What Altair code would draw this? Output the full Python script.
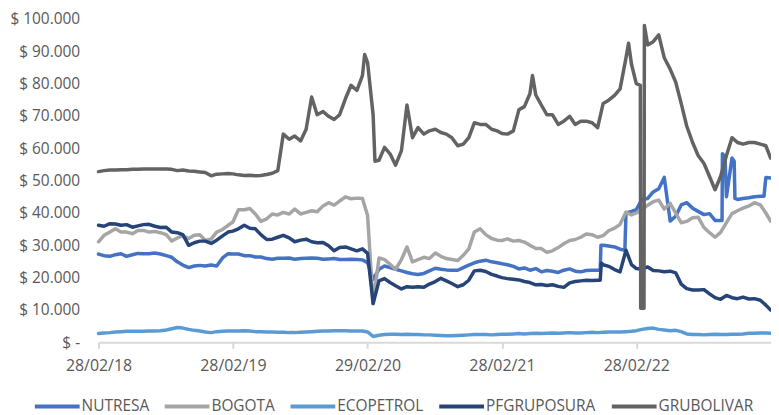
import altair as alt
import pandas as pd

# ---------------- data (values in thousands of pesos) ----------------
names = ["NUTRESA", "BOGOTA", "ECOPETROL", "PFGRUPOSURA", "GRUBOLIVAR"]
colors = ["#4472C4", "#A5A5A5", "#5B9BD5", "#264478", "#636363"]

# semi-monthly observation dates: 28/02/18, then the 15th and last day of each month to 28/02/23
grid_dates = [pd.Timestamp("2018-02-28")]
for ms in pd.date_range("2018-03-01", "2023-02-01", freq="MS"):
    grid_dates.append(ms + pd.Timedelta(days=14))
    grid_dates.append(ms + pd.offsets.MonthEnd(0))

nutresa = [
    27.3, 26.8, 26.6, 27.1, 27.4, 26.6, 27.1, 27.5, 27.4, 27.4, 27.6, 27.3, 26.8, 26.3, 24.9, 23.9, 23.1, 23.6, 23.8, 23.6, 23.9, 23.6, 26.1, 27.4, 27.3,
    27.3, 26.8, 26.8, 26.4, 26.4, 25.9, 25.7, 26.0, 26.0, 26.1, 25.7, 25.9, 26.0, 26.1, 26.0, 25.7, 25.8, 25.9, 25.6, 25.6, 25.7, 25.6, 25.5, 24.6,
    19.5, 22.6, 23.6, 23.1, 22.6, 22.1, 21.6, 21.2, 21.0, 21.3, 22.1, 22.9, 22.6, 22.4, 22.3, 22.3, 23.1, 23.9, 24.6, 25.1, 25.4, 24.9, 24.6, 24.3,
    24.0, 23.5, 22.7, 23.0, 22.3, 22.8, 21.8, 22.2, 22.0, 21.6, 22.3, 22.7, 22.0, 21.8, 22.2, 22.3, 22.3, 30.0, 29.8, 29.5, 28.8, 40.0, 40.5, 41.0,
    44.2, 44.5, 46.5, 47.5, 51.0, 37.5, 39.0, 42.5, 43.2, 41.5, 40.5, 39.5, 39.8, 37.7, 37.7, 45.0, 57.0, 44.2, 44.5, 44.7, 45.0, 45.2, 51.0, 50.8,
]
bogota = [
    31.1, 33.1, 34.1, 35.1, 34.1, 34.1, 33.6, 34.6, 34.6, 34.1, 34.3, 33.9, 33.3, 31.3, 32.3, 32.9, 32.1, 33.1, 33.3, 31.6, 31.9, 34.1, 34.9, 36.2, 37.2,
    41.0, 41.0, 41.4, 39.7, 37.4, 38.2, 39.7, 39.4, 40.2, 39.7, 41.2, 39.7, 40.2, 40.7, 40.4, 42.2, 43.2, 42.4, 43.7, 45.0, 44.4, 44.6, 44.5, 39.2,
    12.0, 26.1, 25.6, 24.1, 22.6, 25.6, 29.5, 24.9, 25.6, 26.3, 25.9, 27.6, 26.6, 25.9, 25.6, 25.3, 26.9, 28.9, 34.1, 35.1, 33.3, 32.1, 31.6, 31.5,
    32.0, 31.3, 31.5, 31.0, 30.0, 29.0, 29.0, 27.8, 28.3, 29.3, 30.5, 31.5, 31.8, 32.5, 33.5, 33.3, 32.5, 33.0, 34.5, 35.3, 36.5, 40.3, 39.4, 40.0,
    41.0, 42.4, 43.5, 44.0, 41.2, 43.0, 40.0, 37.0, 37.4, 38.5, 38.7, 35.5, 33.9, 32.5, 34.0, 37.0, 39.8, 40.7, 41.5, 42.2, 43.2, 42.5, 40.0, 37.5,
]
ecopetrol = [
    2.7, 2.9, 3.0, 3.2, 3.3, 3.4, 3.4, 3.4, 3.4, 3.5, 3.5, 3.6, 3.8, 4.2, 4.6, 4.4, 4.0, 3.7, 3.5, 3.2, 3.0, 3.3, 3.4, 3.5, 3.5,
    3.5, 3.6, 3.5, 3.3, 3.3, 3.2, 3.2, 3.1, 3.1, 3.0, 3.0, 3.1, 3.2, 3.3, 3.4, 3.5, 3.5, 3.6, 3.6, 3.6, 3.5, 3.5, 3.5, 3.2,
    1.8, 2.2, 2.4, 2.5, 2.5, 2.4, 2.5, 2.4, 2.4, 2.3, 2.3, 2.2, 2.1, 2.0, 2.0, 2.1, 2.2, 2.3, 2.4, 2.4, 2.4, 2.3, 2.4, 2.5,
    2.5, 2.6, 2.7, 2.6, 2.7, 2.8, 2.7, 2.8, 2.9, 2.8, 2.9, 3.0, 2.9, 2.9, 3.0, 3.1, 3.0, 3.1, 3.2, 3.2, 3.2, 3.3, 3.4, 3.6,
    4.0, 4.3, 4.4, 4.0, 3.8, 3.6, 3.7, 3.3, 2.6, 2.4, 2.4, 2.3, 2.4, 2.5, 2.4, 2.4, 2.5, 2.5, 2.6, 2.8, 2.8, 2.9, 2.9, 2.8,
]
pfgruposura = [
    36.2, 35.9, 36.7, 36.6, 36.2, 36.4, 35.6, 36.0, 36.4, 36.5, 35.9, 35.5, 35.6, 34.1, 33.9, 33.3, 30.0, 30.8, 31.3, 31.3, 30.6, 31.6, 32.9, 34.1, 34.4,
    35.1, 36.2, 35.3, 35.1, 33.3, 31.8, 31.9, 32.5, 33.1, 32.3, 31.1, 31.6, 31.9, 31.1, 30.8, 30.9, 29.9, 28.3, 29.3, 29.5, 28.9, 28.3, 28.9, 27.5,
    12.0, 19.0, 19.7, 18.5, 17.5, 16.5, 17.2, 17.0, 17.2, 17.0, 18.0, 18.8, 19.8, 19.0, 18.2, 17.2, 17.8, 19.2, 22.1, 22.3, 21.9, 21.0, 20.5, 20.0,
    19.7, 19.5, 19.3, 18.8, 18.5, 17.8, 17.9, 17.6, 17.8, 17.3, 17.0, 18.4, 18.8, 19.0, 19.2, 19.1, 19.2, 24.0, 23.5, 22.5, 21.8, 28.5, 24.0, 22.8,
    22.6, 23.3, 22.2, 22.1, 21.8, 22.0, 21.5, 18.0, 16.6, 16.2, 16.2, 16.3, 15.0, 13.8, 13.3, 14.5, 13.8, 13.5, 14.0, 13.4, 13.5, 13.0, 11.5, 10.0,
]
grubolivar = [
    52.8, 53.1, 53.3, 53.3, 53.4, 53.4, 53.5, 53.5, 53.6, 53.6, 53.6, 53.6, 53.6, 53.5, 53.1, 53.3, 53.0, 52.9, 52.7, 52.5, 51.5, 52.0, 52.1, 52.2, 52.1,
    51.8, 51.6, 51.7, 51.5, 51.6, 51.9, 52.3, 53.1, 64.4, 62.8, 63.8, 62.3, 65.9, 75.9, 70.4, 71.4, 69.9, 68.9, 70.4, 75.4, 79.5, 77.9, 82.5, 86.5,
    70.4, 56.3, 60.3, 58.3, 54.8, 59.3, 73.4, 63.3, 66.4, 64.4, 65.4, 65.9, 64.9, 64.4, 63.3, 60.8, 61.3, 63.3, 67.9, 67.4, 67.4, 65.9, 65.4, 64.6,
    64.4, 65.4, 71.9, 72.9, 76.9, 76.5, 73.4, 70.4, 70.4, 67.4, 68.4, 69.9, 67.4, 68.4, 68.4, 67.9, 66.4, 73.9, 74.9, 76.4, 78.4, 88.0, 86.0, 80.0,
    10.5, 92.0, 93.0, 95.1, 88.0, 84.5, 80.5, 73.9, 66.9, 61.8, 57.8, 55.3, 51.3, 47.2, 51.3, 57.8, 63.3, 61.8, 61.3, 61.8, 61.8, 61.3, 60.8, 57.0,
]

# additional observations at sharp jumps/spikes (date, value in thousands)
extra_nutresa = [("2021-11-22", 22.3), ("2021-11-24", 30.0), ("2022-01-28", 28.5),
                 ("2022-10-19", 37.7), ("2022-10-20", 58.3), ("2022-10-27", 57.5),
                 ("2022-11-21", 56.0), ("2022-11-23", 44.5), ("2023-02-10", 45.2)]
extra_pfgruposura = [("2021-11-22", 19.2), ("2021-11-25", 24.5)]
extra_grubolivar = [("2020-02-21", 89.0), ("2020-03-20", 56.0), ("2021-05-22", 82.5),
                    ("2022-02-07", 92.5), ("2022-03-11", 79.5), ("2022-03-12", 10.5),
                    ("2022-03-21", 10.5), ("2022-03-22", 98.0)]

series = {"NUTRESA": nutresa, "BOGOTA": bogota, "ECOPETROL": ecopetrol,
          "PFGRUPOSURA": pfgruposura, "GRUBOLIVAR": grubolivar}
extras = {"NUTRESA": extra_nutresa, "PFGRUPOSURA": extra_pfgruposura,
          "GRUBOLIVAR": extra_grubolivar}

rows = []
for name in names:
    for d, v in zip(grid_dates, series[name]):
        rows.append({"fecha": d, "serie": name, "valor": v * 1000})
    for d, v in extras.get(name, []):
        rows.append({"fecha": pd.Timestamp(d), "serie": name, "valor": v * 1000})
df = pd.DataFrame(rows).sort_values(["serie", "fecha"]).reset_index(drop=True)

tick_dates = [alt.DateTime(year=2018, month=2, date=28), alt.DateTime(year=2019, month=2, date=28),
              alt.DateTime(year=2020, month=2, date=29), alt.DateTime(year=2021, month=2, date=28),
              alt.DateTime(year=2022, month=2, date=28)]

FONT = "Open Sans"
TXT = "#595959"

x_enc = alt.X(
    "fecha:T",
    scale=alt.Scale(domain=[alt.DateTime(year=2018, month=2, date=28),
                            alt.DateTime(year=2023, month=3, date=1)]),
    axis=alt.Axis(values=tick_dates, format="%d/%m/%y", title=None, grid=False,
                  domainColor="#D9D9D9", domainWidth=2, tickColor="#D9D9D9",
                  tickWidth=2, tickSize=6, labelPadding=9, labelFont=FONT,
                  labelFontSize=16, labelColor=TXT, labelOverlap=False, labelFlush=False),
)
y_enc = alt.Y(
    "valor:Q",
    scale=alt.Scale(domain=[0, 100000], nice=False),
    axis=alt.Axis(values=list(range(0, 100001, 10000)), title=None, grid=False,
                  domain=False, ticks=False, labelPadding=19, labelFont=FONT,
                  labelFontSize=15.5, labelColor=TXT,
                  labelExpr="datum.value == 0 ? '$ -\u00a0\u00a0' : '$ ' + replace(format(datum.value, ','), ',', '.')"),
)
color_enc = alt.Color(
    "serie:N",
    scale=alt.Scale(domain=names, range=colors),
    legend=alt.Legend(orient="none", legendX=-66, legendY=365, direction="horizontal",
                      title=None, symbolType="stroke", symbolSize=2025,
                      symbolStrokeWidth=4, labelFont=FONT, labelFontSize=15.5,
                      labelColor=TXT, labelOffset=0, columnPadding=7.5, padding=0),
)

layers = []
for name in names:
    layers.append(
        alt.Chart(df)
        .transform_filter(alt.datum.serie == name)
        .mark_line(strokeWidth=3.5, strokeJoin="round", strokeCap="round")
        .encode(x=x_enc, y=y_enc, color=color_enc)
    )

chart = (
    alt.layer(*layers)
    .properties(width=676, height=325,
                padding={"left": 91, "top": 10, "right": 0, "bottom": 72},
                autosize=alt.AutoSizeParams(type="none"),
                background="white")
    .configure_view(stroke=None)
)

chart.save("out.html", embed_options={"renderer": "svg", "actions": False})
